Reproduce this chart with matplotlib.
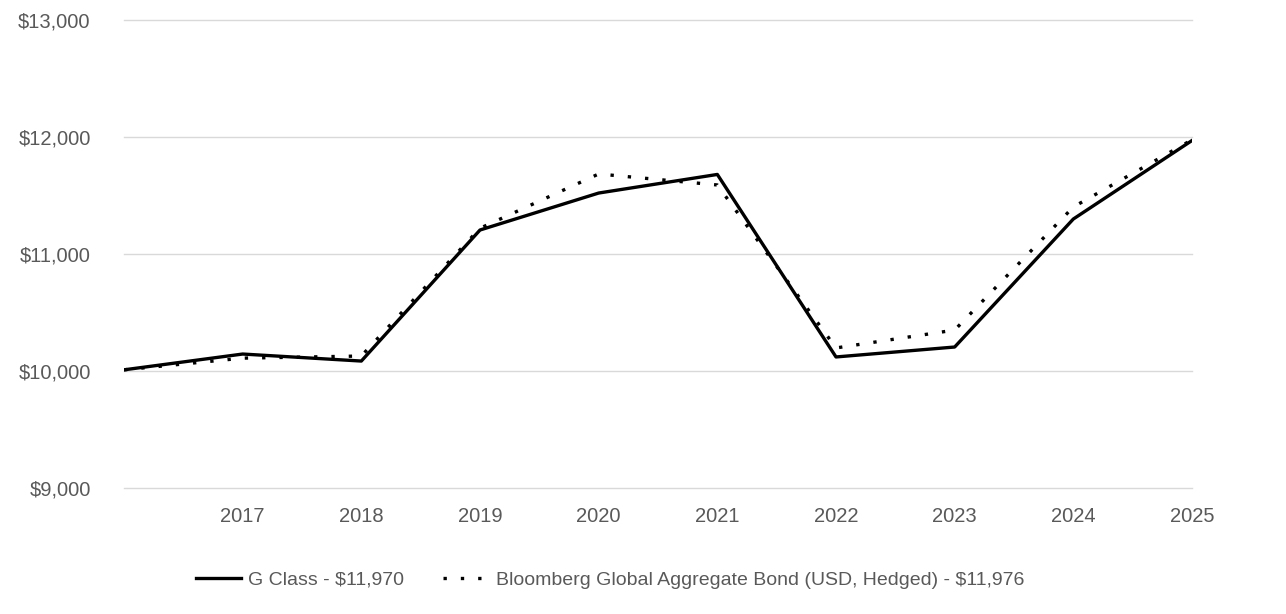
import matplotlib.pyplot as plt
from matplotlib.ticker import FuncFormatter

years = [2016, 2017, 2018, 2019, 2020, 2021, 2022, 2023, 2024, 2025]
g_class = [10010, 10145, 10085, 11205, 11521, 11680, 10120, 10205, 11299, 11970]
bloomberg = [10010, 10110, 10128, 11220, 11684, 11590, 10197, 10350, 11402, 11976]
tick_years = [2017, 2018, 2019, 2020, 2021, 2022, 2023, 2024, 2025]
y_ticks = [9000, 10000, 11000, 12000, 13000]

plt.rcParams['font.family'] = ['Liberation Sans', 'DejaVu Sans']

fig = plt.figure(figsize=(12.86, 6.14), dpi=100)
ax = fig.add_axes([124/1286, 1 - 488/614, (1192-124)/1286, (488-20)/614])

ax.plot(years, g_class, color='black', lw=2.4, label='G Class - $11,970')
ax.plot(years, bloomberg, color='black', lw=2.4, linestyle=(0, (1, 4.2)),
        label='Bloomberg Global Aggregate Bond (USD, Hedged) - $11,976')

ax.set_xlim(2016, 2025)
ax.set_ylim(9000, 13000)
ax.set_xticks(tick_years)
ax.set_yticks(y_ticks)
ax.yaxis.set_major_formatter(FuncFormatter(lambda v, p: f'${v:,.0f}'))
ax.grid(axis='y', color='#d9d9d9', lw=1)
for gl in ax.get_ygridlines():
    gl.set_clip_on(False)
ax.set_axisbelow(True)
for s in ax.spines.values():
    s.set_visible(False)
ax.tick_params(length=0, labelsize=14.5, colors='#595959')
ax.tick_params(axis='x', pad=14)
ax.tick_params(axis='y', pad=24)

leg = fig.legend(loc='center', bbox_to_anchor=(610/1286, 1 - 580/614), ncol=2, frameon=False,
                 fontsize=14, handlelength=2.3, columnspacing=2.0, handletextpad=0.4)
for t in leg.get_texts():
    t.set_color('#595959')

fig.savefig('out.png', dpi=100)
